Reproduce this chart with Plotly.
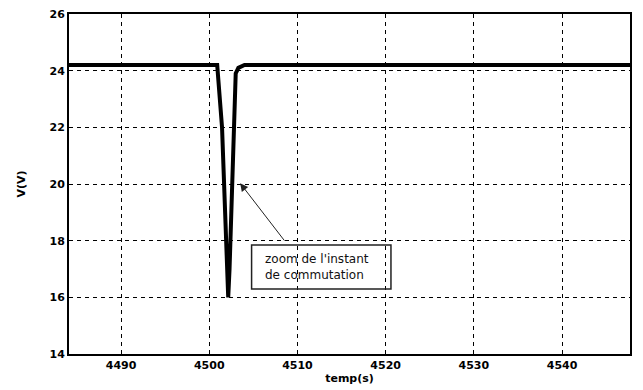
import plotly.graph_objects as go

# data
t_s = [4484.0, 4500.9, 4501.45, 4501.75, 4502.0, 4502.15, 4502.3, 4502.5, 4502.75, 4503.0, 4503.3, 4504.0, 4548.0]
v_V = [24.2, 24.2, 22.0, 19.0, 17.0, 16.0, 17.0, 19.0, 22.0, 23.9, 24.1, 24.2, 24.2]

x_ticks = [4490, 4500, 4510, 4520, 4530, 4540]
y_ticks = [14, 16, 18, 20, 22, 24, 26]
note_text = "zoom de l'instant<br>de commutation"

fig = go.Figure()
fig.add_trace(go.Scatter(x=t_s, y=v_V, mode="lines",
                         line=dict(color="black", width=4), showlegend=False))

tickfont = dict(family="DejaVu Sans", size=11, color="black")
titlefont = dict(family="DejaVu Sans", size=11, color="black")
fig.update_layout(
    width=643, height=390,
    margin=dict(l=69, r=13, t=14, b=36, autoexpand=False),
    paper_bgcolor="white", plot_bgcolor="white",
    xaxis=dict(range=[4484.1, 4547.7], tickvals=x_ticks, automargin=False,
               ticktext=["<b>%d</b>" % v for v in x_ticks], showgrid=True,
               gridcolor="black", griddash="4px,4px", gridwidth=1,
               showline=True, linecolor="black", linewidth=2, mirror=True,
               ticks="", tickfont=tickfont, zeroline=False,
               title=dict(text="<b>temp(s)</b>", font=titlefont, standoff=2)),
    yaxis=dict(range=[14, 26], tickvals=y_ticks, automargin=False,
               ticktext=["<b>%d</b>" % v for v in y_ticks], showgrid=True,
               gridcolor="black", griddash="4px,4px", gridwidth=1,
               showline=True, linecolor="black", linewidth=2, mirror=True,
               ticks="", tickfont=tickfont, zeroline=False,
               title=dict(text="<b>V(V)</b>", font=titlefont, standoff=22)),
)

# arrow
fig.add_annotation(x=4503.5, y=20.03, ax=4508.65, ay=17.95, xref="x", yref="y",
                   axref="x", ayref="y", text="", showarrow=True,
                   arrowhead=2, arrowsize=1.6, arrowwidth=1, arrowcolor="#222")
# box
fig.add_shape(type="rect", x0=4504.8, x1=4520.6, y0=16.29, y1=17.85,
              xref="x", yref="y", line=dict(color="#222", width=1.5))
fig.add_annotation(x=4506.1, y=17.07, xref="x", yref="y", text=note_text,
                   showarrow=False, xanchor="left", yanchor="middle", align="left",
                   font=dict(family="DejaVu Sans", size=12, color="#111"))

fig.write_html("out.html")
